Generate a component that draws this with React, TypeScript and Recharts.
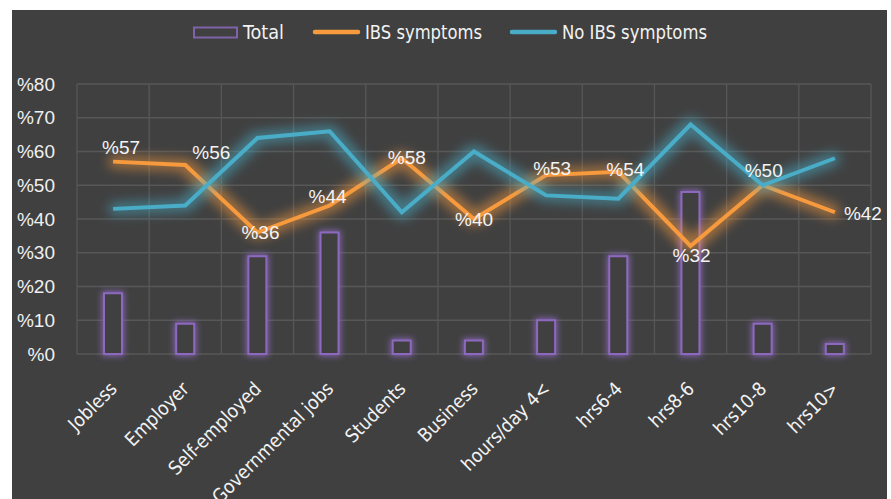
import { ComposedChart, Bar, Line, XAxis, YAxis, CartesianGrid, Legend } from "recharts";

const categories = [
    "Jobless",
    "Employer",
    "Self-employed",
    "Governmental jobs",
    "Students",
    "Business",
    "hours/day 4<",
    "hrs6-4",
    "hrs8-6",
    "hrs10-8",
    "hrs10>",
];
const totalValues = [18, 9, 29, 36, 4, 4, 10, 29, 48, 9, 3];
const ibsValues = [57, 56, 36, 44, 58, 40, 53, 54, 32, 50, 42];
const noIbsValues = [43, 44, 64, 66, 42, 60, 47, 46, 68, 50, 58];
const yTicks = [0, 10, 20, 30, 40, 50, 60, 70, 80];

// where each IBS label sits relative to its point (dx, dy)
const ibsLabelShift = [
    [8, -14], [26, -13], [3, 0], [-2, -9], [5, -1], [0, 0],
    [6, -7], [7, -2], [1, 9], [1, -15], [28, 1],
];

const data = categories.map((name, i) => ({
    name,
    total: totalValues[i],
    ibs: ibsValues[i],
    noIbs: noIbsValues[i],
}));

const W = 875;
const H = 489;
const ORANGE = "#F79A3E";
const BLUE = "#4AADC8";
const PURPLE = "#8C69BE";
const narrow = "'DejaVu Sans Condensed', 'Open Sans', sans-serif";
const arial = "'Liberation Sans', Arial, sans-serif";

const XTick = ({ x, y, payload }: any) => {
    const ax = x + 5;
    const ay = y + 36;
    return (
        <text x={ax} y={ay} transform={`rotate(-45, ${ax}, ${ay})`} textAnchor="end"
            fill="#f2f2f2" fontSize={19} fontFamily={narrow}>
            {payload.value}
        </text>
    );
};

const IbsLabel = ({ x, y, value, index }: any) => {
    const [dx, dy] = ibsLabelShift[index] || [0, 0];
    return (
        <text x={x + dx} y={y + dy} textAnchor="middle" dominantBaseline="central"
            fill="#f4f4f4" fontSize={19} fontFamily={arial}>
            {"%" + value}
        </text>
    );
};

// Excel-style legend, text squeezed to the reference widths
const LegendContent = () => (
    <svg width={520} height={24} style={{ display: "block", overflow: "visible" }}>
        <g fontFamily={narrow} fontSize={19} fill="#f2f2f2">
            <rect x={1} y={3.5} width={43} height={10} fill="none" stroke="#7F62A8" strokeWidth={2} />
            <text x={50} y={14.5} textLength={41} lengthAdjust="spacingAndGlyphs">Total</text>
            <line x1={122} y1={8} x2={165} y2={8} stroke={ORANGE} strokeWidth={4.5} strokeLinecap="round" />
            <text x={172} y={14.5} textLength={117} lengthAdjust="spacingAndGlyphs">IBS symptoms</text>
            <line x1={319} y1={8} x2={362} y2={8} stroke={BLUE} strokeWidth={4.5} strokeLinecap="round" />
            <text x={369} y={14.5} textLength={145} lengthAdjust="spacingAndGlyphs">No IBS symptoms</text>
        </g>
    </svg>
);

const lineGlow = (id: string) => (
    <filter id={id} filterUnits="userSpaceOnUse" x="0" y="0" width={W} height={H}>
        <feMorphology in="SourceGraphic" operator="dilate" radius="4" result="d" />
        <feGaussianBlur in="d" stdDeviation="6" result="b" />
        <feComponentTransfer in="b" result="g"><feFuncA type="linear" slope="0.55" /></feComponentTransfer>
        <feMerge><feMergeNode in="g" /><feMergeNode in="SourceGraphic" /></feMerge>
    </filter>
);

export default function App() {
    return (
        <div style={{ position: "absolute", left: 0, top: 0, width: 891, height: 499, background: "#fff", overflow: "hidden" }}>
            <style>{`
                .ibs-line .recharts-line-curve { filter: url(#glowOrange); }
                .noibs-line .recharts-line-curve { filter: url(#glowBlue); }
                .total-bar .recharts-rectangle { filter: url(#glowPurple); }
            `}</style>
            <div style={{ position: "absolute", left: 12, top: 10, width: W, height: H, background: "#404040" }}>
                <ComposedChart width={W} height={H} data={data}
                    margin={{ top: 74, right: 16, left: 0, bottom: 0 }} barCategoryGap={0}>
                    <defs>
                        {lineGlow("glowOrange")}
                        {lineGlow("glowBlue")}
                        <filter id="glowPurple" filterUnits="userSpaceOnUse" x="0" y="0" width={W} height={H}>
                            <feMorphology in="SourceAlpha" operator="dilate" radius="1" result="d" />
                            <feGaussianBlur in="d" stdDeviation="3" result="b" />
                            <feFlood floodColor={PURPLE} floodOpacity="0.9" />
                            <feComposite operator="in" in2="b" result="g" />
                            <feMerge><feMergeNode in="g" /><feMergeNode in="SourceGraphic" /></feMerge>
                        </filter>
                    </defs>
                    <CartesianGrid stroke="#575757" strokeWidth={1.3}
                        verticalCoordinatesGenerator={({ offset }: any) =>
                            categories.concat([""]).map((_, i) => offset.left + (i * offset.width) / categories.length)}
                    />
                    <XAxis dataKey="name" height={145} interval={0} axisLine={false} tickLine={false}
                        tickSize={0} tickMargin={0} tick={<XTick />} />
                    <YAxis width={65} domain={[0, 80]} ticks={yTicks} axisLine={false} tickLine={false}
                        tickSize={0} tickMargin={22} tickFormatter={(v: number) => "%" + v}
                        tick={{ fill: "#f0f0f0", fontSize: 19, fontFamily: arial }} />
                    <Legend layout="horizontal" verticalAlign="middle" align="center"
                        wrapperStyle={{ top: 14, left: 181, width: 520, height: 24 }} content={<LegendContent />} />
                    <Bar dataKey="total" name="Total" className="total-bar" barSize={18}
                        fill="#414041" stroke={PURPLE} strokeWidth={2} isAnimationActive={false} />
                    <Line dataKey="ibs" name="IBS symptoms" className="ibs-line" type="linear" stroke={ORANGE}
                        strokeWidth={4} dot={false} activeDot={false} label={<IbsLabel />} isAnimationActive={false} />
                    <Line dataKey="noIbs" name="No IBS symptoms" className="noibs-line" type="linear" stroke={BLUE}
                        strokeWidth={4} dot={false} activeDot={false} isAnimationActive={false} />
                </ComposedChart>
            </div>
        </div>
    );
}
